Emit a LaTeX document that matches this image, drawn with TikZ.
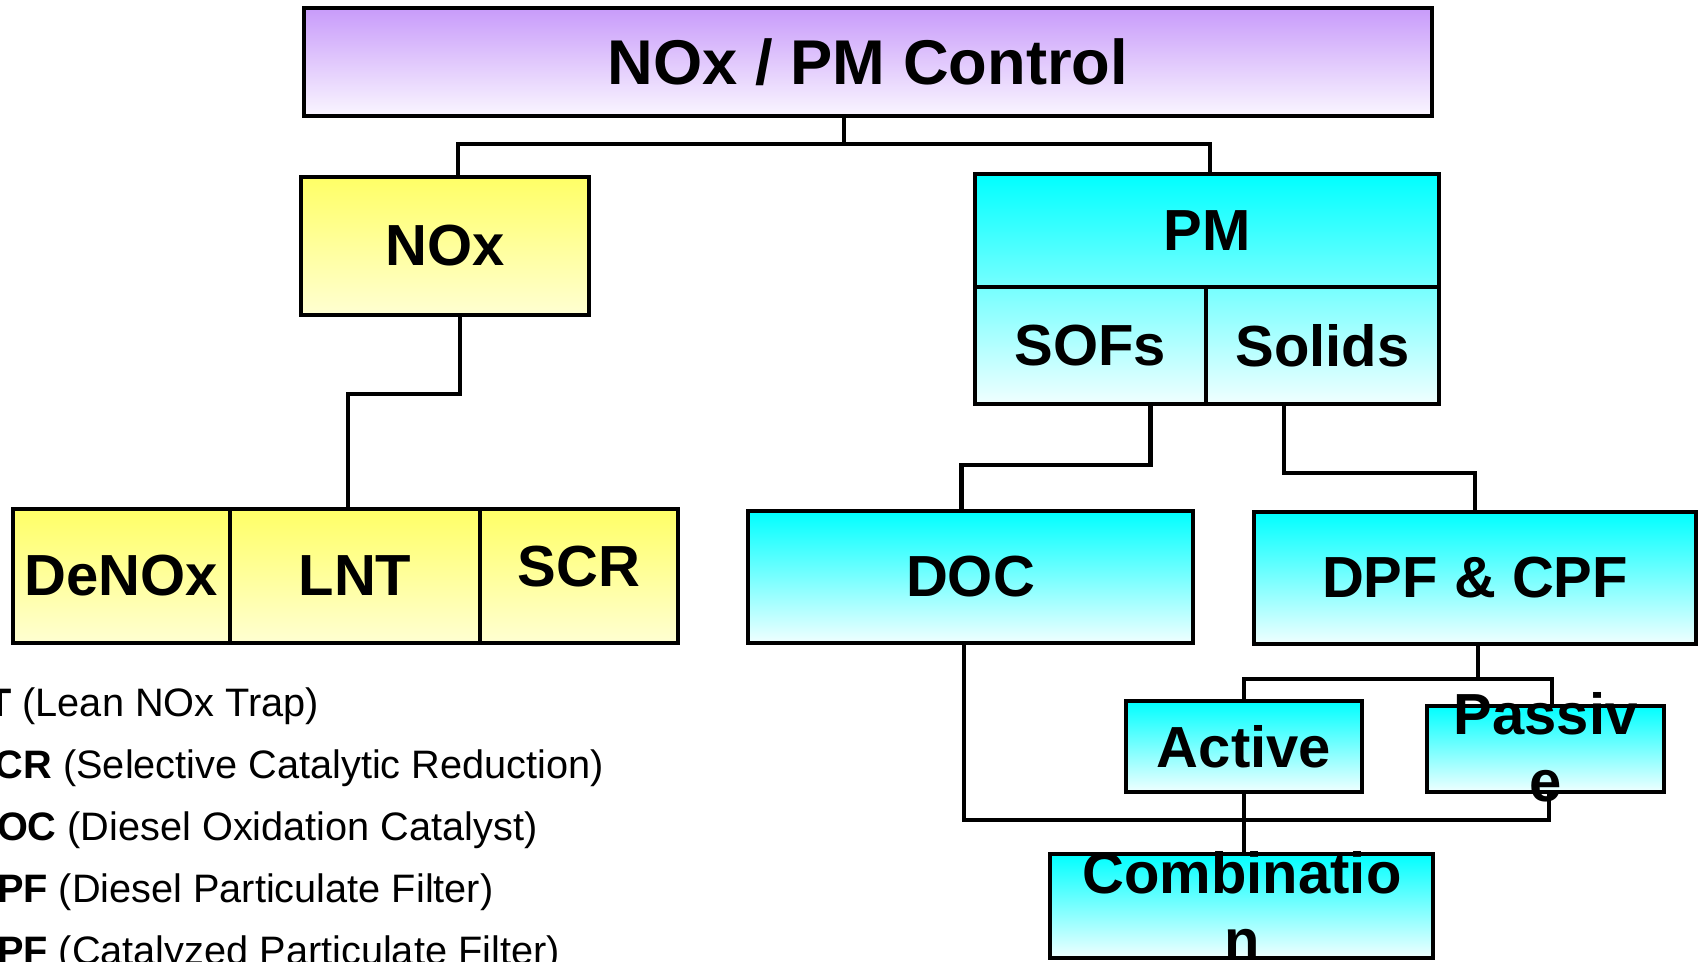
\documentclass[tikz,border=0pt]{standalone}
\usepackage{fontspec}
\setmainfont{Liberation Sans}
\definecolor{lilac}{RGB}{200,155,250}
\definecolor{lilacpale}{RGB}{250,246,255}
\definecolor{lemon}{RGB}{255,255,102}
\definecolor{lemonpale}{RGB}{255,255,210}
\definecolor{aqua}{RGB}{0,255,255}
\definecolor{aquapale}{RGB}{240,255,255}
\begin{document}
\begin{tikzpicture}[x=0.02cm, y=-0.02cm,
        box/.style={draw, line width=2.6pt, inner sep=0pt, font=\fontsize{33}{38}\selectfont\bfseries},
        lilacbox/.style={box, top color=lilac, bottom color=lilacpale},
        lemonbox/.style={box, top color=lemon, bottom color=lemonpale},
        aquabox/.style={box, top color=aqua, bottom color=aquapale},
        boxtext/.style={font=\fontsize{33}{38}\selectfont\bfseries, align=center, anchor=base, inner sep=0pt},
        note/.style={font=\fontsize{22.6}{26}\selectfont, anchor=base west, inner sep=0pt},
        link/.style={line width=2.4pt}]
        \useasboundingbox (0,0) rectangle (1698,961);
        \clip (0,0) rectangle (1698,961);
        % top level
        \node[lilacbox, minimum width=22.56cm, minimum height=2.16cm, font=\fontsize{36}{40}\selectfont\bfseries] (control) at (868,62) {NOx / PM Control};
        \node[lemonbox, minimum width=5.76cm, minimum height=2.76cm] (nox) at (445,246) {NOx};
        \node[aquabox, minimum width=9.28cm, minimum height=4.6cm] (pm) at (1207,289) {};
        \node[box, minimum width=9.28cm, minimum height=2.26cm] (pmhead) at (1207,230.5) {PM};
        \node[box, minimum width=4.62cm, minimum height=2.34cm] (sofs) at (1090.5,345.5) {SOFs};
        \node[box, minimum width=4.66cm, minimum height=2.34cm] (solids) at (1322.5,345.5) {Solids};
        % NOx devices
        \node[lemonbox, minimum width=4.34cm, minimum height=2.68cm] (denox) at (121.5,576) {DeNOx};
        \node[lemonbox, minimum width=5cm, minimum height=2.68cm] (lnt) at (355,576) {LNT};
        \node[lemonbox, minimum width=3.96cm, minimum height=2.68cm] (scr) at (579,576) {\raisebox{0.4cm}{SCR}};
        % PM devices
        \node[aquabox, minimum width=8.9cm, minimum height=2.64cm] (doc) at (970.5,577) {DOC};
        \node[aquabox, minimum width=8.84cm, minimum height=2.64cm] (dpf) at (1475,578) {DPF \& CPF};
        \node[aquabox, minimum width=4.72cm, minimum height=1.82cm] (active) at (1244,746.5) {Active};
        \node[aquabox, minimum width=4.74cm, minimum height=1.72cm] (passive) at (1545.5,749) {};
        \node[aquabox, minimum width=7.66cm, minimum height=2.08cm] (comb) at (1241.5,906) {};
        % connectors
        \draw[link] ([xshift=-0.48cm]control.south) -- ++(0,26) coordinate (split) -| ([xshift=0.26cm]nox.north);
        \draw[link] (split) -| ([xshift=0.06cm]pm.north);
        \draw[link] ([xshift=0.3cm]nox.south) -- ++(0,77) -| ([xshift=-0.14cm]lnt.north);
        \draw[link] ([xshift=1.2cm]sofs.south) -- ++(0,59) -| ([xshift=-0.18cm]doc.north);
        \draw[link] ([xshift=-0.77cm]solids.south) -- ++(0,67) -| (dpf.north);
        \draw[link] ([xshift=0.06cm]dpf.south) -- ++(0,33) coordinate (fork) -| (active.north);
        \draw[link] (fork) -| ([xshift=0.13cm]passive.north);
        \draw[link] ([xshift=-0.13cm]doc.south) -- ++(0,175) -| ([xshift=0.07cm]passive.south);
        \draw[link] (active.south) -- (active.south |- comb.north);
        % wrapped labels
        \node[boxtext] (passivetext) at (1545.5,801.5) {Passiv\\e};
        \node[boxtext] (combtext) at (1242,960) {Combinatio\\n};
        % notes
        \node[note] (lntnote) at (-66,716) {\textbf{LNT} (Lean NOx Trap)};
        \node[note] (scrnote) at (-32,778) {\textbf{SCR} (Selective Catalytic Reduction)};
        \node[note] (docnote) at (-32,840) {\textbf{DOC} (Diesel Oxidation Catalyst)};
        \node[note] (dpfnote) at (-32,902) {\textbf{DPF} (Diesel Particulate Filter)};
        \node[note] (cpfnote) at (-32,964) {\textbf{CPF} (Catalyzed Particulate Filter)};
\end{tikzpicture}
\end{document}
